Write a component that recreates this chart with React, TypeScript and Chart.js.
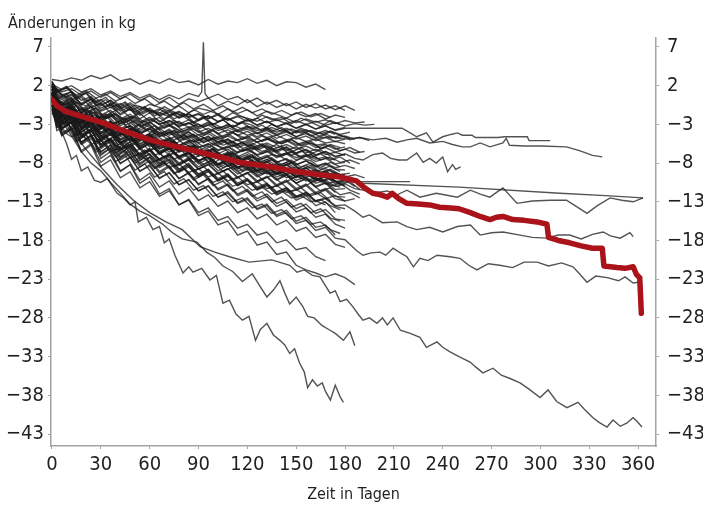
import { useEffect, useRef } from "react";
import { Chart, registerables } from "chart.js";
Chart.register(...registerables);

const Y_TITLE = "Änderungen in kg";
const X_TITLE = "Zeit in Tagen";
const X_TICKS = [0, 30, 60, 90, 120, 150, 180, 210, 240, 270, 300, 330, 360];
const Y_TICKS = [-43, -38, -33, -28, -23, -18, -13, -8, -3, 2, 7];

// day grids for the individual curves of the first half year
const GRID_DAYS = [0, 6, 12, 18, 24, 30, 36, 42, 48, 54, 60, 66, 72, 78, 84, 90, 96, 102, 108, 114, 120, 126, 132, 138, 144, 150, 156, 162, 168, 174, 180, 186, 192, 198];
const GRID_DAYS_B = [0, 3, 9, 15, 21, 27, 33, 39, 45, 51, 57, 63, 69, 75, 81, 87, 93, 99, 105, 111, 117, 123, 129, 135, 141, 147, 153, 159, 165, 171, 177, 183, 189, 195];

// individual weight changes (kg) on GRID_DAYS
const MASS_LINES: number[][] = [
  [2.8, 2.6, 3.0, 2.7, 3.3, 2.9, 3.4, 2.6, 2.9, 2.2, 2.7, 2.3, 2.9, 2.4, 2.6, 2.1, 2.8, 2.2, 2.6, 2.4, 2.9, 2.3, 2.7, 2.0, 2.5, 2.4, 1.8, 2.2, 1.5],
  [2.0, 1.2, 1.6, 0.8, 1.3, 0.5, 1.1, 0.3, 0.9, 0.1, 0.7, -0.2, 0.5, -0.4, 0.3, -0.1, 0.4, -0.6, 0.0, -0.5, 0.2, -0.7, -0.1, -0.8, -0.3, -1.0, -0.4, -0.9, -0.5, -1.1, -0.6, -1.2],
  [1.5, 0.2, 0.8, -0.3, 0.4, -0.6, 0.1, -0.9, -0.2, -1.1, -0.4, -0.8, -1.3, -0.6, -1.5, -0.9, -1.2, -1.7, -1.0, -1.6, -1.1, -1.9, -1.3, -1.7, -2.2, -1.5, -2.0, -1.6, -2.3, -1.8, -2.1],
  [0.8, -0.5, -0.1, -1.0, -0.4, -1.3, -0.8, -1.6, -1.0, -1.8, -1.2, -1.5, -2.0, -1.4, -2.1, -1.7, -2.3, -1.6, -2.4, -1.9, -2.2, -2.6, -2.0, -2.5, -2.2, -2.8, -2.3, -2.7, -2.4, -2.9, -2.5, -2.8, -2.7],
  [1.8, 0.4, 0.9, -0.4, 0.2, -0.9, -0.3, -1.3, -0.7, -1.6, -1.1, -1.9, -1.4, -2.2, -1.7, -2.5, -1.9, -2.7, -2.2, -2.9, -2.4, -3.1, -2.6, -3.3, -2.8, -3.5, -3.0, -3.6, -3.2, -3.7, -3.4],
  [0.2, -1.4, -0.8, -1.9, -1.3, -2.2, -1.7, -2.5, -2.0, -2.8, -2.3, -3.0, -2.5, -3.2, -2.8, -3.4, -2.9, -3.5, -3.1, -3.7, -3.2, -3.8, -3.4, -4.0, -3.5, -4.1, -3.7, -4.2, -3.8, -4.3],
  [2.5, 0.6, 1.2, -0.5, 0.3, -1.2, -0.4, -1.8, -1.0, -2.3, -1.5, -2.7, -2.0, -3.0, -2.4, -3.3, -2.7, -3.6, -3.0, -3.9, -3.3, -4.1, -3.6, -4.3, -3.8, -4.6, -4.0, -4.7, -4.2, -4.8, -4.5, -4.9],
  [1.0, -1.2, -0.5, -2.0, -1.3, -2.5, -1.9, -2.9, -2.4, -3.2, -2.7, -3.5, -3.0, -3.8, -3.3, -4.0, -3.5, -4.2, -3.7, -4.4, -3.9, -4.6, -4.1, -4.8, -4.3, -4.9, -4.5, -5.1, -4.7, -5.2, -4.9],
  [-0.5, -2.5, -1.8, -3.0, -2.4, -3.4, -2.9, -3.7, -3.2, -4.0, -3.5, -4.2, -3.8, -4.5, -4.0, -4.7, -4.2, -4.9, -4.5, -5.1, -4.7, -5.3, -4.9, -5.4, -5.0, -5.6, -5.2, -5.7, -5.5],
  [1.5, -0.4, 0.2, -1.5, -0.8, -2.2, -1.5, -2.8, -2.1, -3.3, -2.7, -3.7, -3.1, -4.1, -3.5, -4.4, -3.9, -4.7, -4.2, -5.0, -4.5, -5.3, -4.8, -5.5, -5.1, -5.8, -5.3, -6.0, -5.6, -6.2, -5.9],
  [0.5, -1.8, -1.0, -2.7, -1.9, -3.3, -2.6, -3.8, -3.1, -4.2, -3.6, -4.5, -4.0, -4.8, -4.3, -5.1, -4.6, -5.3, -4.9, -5.6, -5.1, -5.8, -5.4, -6.0, -5.6, -6.2, -5.8, -6.4, -6.0, -6.6, -6.2, -6.7, -6.5],
  [2.0, -0.3, 0.5, -1.6, -0.7, -2.5, -1.6, -3.2, -2.4, -3.8, -3.0, -4.3, -3.6, -4.7, -4.0, -5.1, -4.5, -5.5, -4.9, -5.8, -5.3, -6.1, -5.6, -6.4, -5.9, -6.7, -6.2, -6.9, -6.5, -7.1, -6.9],
  [0.0, -2.6, -1.8, -3.5, -2.8, -4.1, -3.4, -4.6, -4.0, -5.0, -4.4, -5.4, -4.9, -5.7, -5.2, -6.0, -5.5, -6.3, -5.8, -6.6, -6.1, -6.9, -6.4, -7.1, -6.7, -7.3, -6.9, -7.5, -7.2, -7.6],
  [1.0, -1.5, -0.8, -2.8, -2.0, -3.6, -2.9, -4.3, -3.6, -4.8, -4.2, -5.3, -4.7, -5.7, -5.1, -6.0, -5.5, -6.4, -5.9, -6.7, -6.2, -7.0, -6.5, -7.3, -6.8, -7.6, -7.1, -7.8, -7.4, -8.1, -7.9],
  [-1.0, -3.5, -2.7, -4.3, -3.6, -4.9, -4.3, -5.4, -4.8, -5.8, -5.2, -6.2, -5.6, -6.5, -6.0, -6.8, -6.3, -7.1, -6.6, -7.4, -6.9, -7.7, -7.2, -7.9, -7.5, -8.2, -7.7, -8.4, -8.0, -8.6, -8.3, -8.7],
  [1.5, -1.2, -0.3, -2.6, -1.7, -3.6, -2.7, -4.4, -3.6, -5.0, -4.3, -5.6, -4.9, -6.0, -5.4, -6.4, -5.8, -6.8, -6.2, -7.2, -6.6, -7.5, -7.0, -7.9, -7.4, -8.2, -7.7, -8.5, -8.1, -8.8, -8.9],
  [0.5, -2.2, -1.4, -3.4, -2.5, -4.2, -3.4, -4.9, -4.1, -5.5, -4.8, -6.0, -5.3, -6.5, -5.8, -6.9, -6.3, -7.3, -6.7, -7.7, -7.1, -8.1, -7.5, -8.4, -7.9, -8.8, -8.3, -9.1, -8.7, -9.4, -9.5],
  [2.0, -0.8, 0.0, -2.4, -1.5, -3.5, -2.6, -4.4, -3.6, -5.2, -4.4, -5.8, -5.1, -6.4, -5.7, -6.9, -6.3, -7.4, -6.8, -7.9, -7.3, -8.3, -7.8, -8.7, -8.2, -9.1, -8.6, -9.5, -9.0, -9.8],
  [0.0, -2.8, -2.0, -4.0, -3.2, -4.9, -4.1, -5.6, -4.9, -6.2, -5.5, -6.8, -6.1, -7.3, -6.6, -7.8, -7.1, -8.2, -7.6, -8.6, -8.0, -9.0, -8.4, -9.4, -8.8, -9.8, -9.2, -10.1, -9.6, -10.4, -10.3],
  [1.0, -2.0, -1.2, -3.5, -2.6, -4.5, -3.6, -5.3, -4.5, -6.0, -5.2, -6.6, -5.9, -7.2, -6.5, -7.7, -7.0, -8.2, -7.5, -8.7, -8.0, -9.1, -8.5, -9.5, -8.9, -9.9, -9.3, -10.3, -9.7, -10.7, -10.2, -11.0],
  [-0.5, -3.6, -2.8, -4.7, -3.9, -5.6, -4.8, -6.3, -5.6, -6.9, -6.2, -7.5, -6.8, -8.0, -7.3, -8.5, -7.8, -9.0, -8.3, -9.4, -8.8, -9.8, -9.2, -10.2, -9.6, -10.6, -10.0, -11.0, -10.5, -11.4, -11.3],
  [1.5, -1.6, -0.8, -3.3, -2.4, -4.5, -3.6, -5.4, -4.6, -6.2, -5.4, -6.9, -6.1, -7.5, -6.8, -8.1, -7.4, -8.6, -8.0, -9.1, -8.5, -9.6, -9.0, -10.1, -9.5, -10.6, -10.0, -11.1, -10.6, -11.8],
  [0.0, -3.2, -2.3, -4.6, -3.7, -5.6, -4.8, -6.4, -5.6, -7.1, -6.3, -7.7, -7.0, -8.3, -7.6, -8.8, -8.2, -9.3, -8.7, -9.8, -9.2, -10.3, -9.7, -10.8, -10.2, -11.3, -10.7, -11.8, -11.3, -12.3, -12.4],
  [1.0, -2.4, -1.5, -4.0, -3.1, -5.2, -4.3, -6.1, -5.3, -6.9, -6.1, -7.6, -6.8, -8.2, -7.5, -8.8, -8.1, -9.4, -8.7, -9.9, -9.3, -10.5, -9.8, -11.0, -10.4, -11.5, -10.9, -12.0, -11.5, -12.6, -12.9],
  [-1.0, -4.5, -3.6, -5.6, -4.8, -6.5, -5.7, -7.3, -6.5, -8.0, -7.2, -8.6, -7.9, -9.2, -8.5, -9.8, -9.1, -10.3, -9.7, -10.8, -10.2, -11.3, -10.7, -11.8, -11.2, -12.3, -11.8, -12.9, -13.4],
  [0.5, -3.0, -2.1, -4.6, -3.7, -5.8, -4.9, -6.8, -5.9, -7.6, -6.8, -8.4, -7.6, -9.1, -8.3, -9.7, -9.0, -10.3, -9.6, -10.9, -10.2, -11.4, -10.8, -12.0, -11.4, -12.5, -12.0, -13.0, -12.6, -13.6, -13.9],
  [2.0, -1.5, -0.6, -3.5, -2.6, -5.0, -4.0, -6.2, -5.2, -7.2, -6.3, -8.0, -7.2, -8.8, -8.0, -9.5, -8.8, -10.2, -9.5, -10.9, -10.2, -11.5, -10.9, -12.1, -11.5, -12.8, -12.2, -13.5, -13.0, -14.4],
  [0.0, -3.6, -2.7, -5.3, -4.4, -6.6, -5.7, -7.6, -6.8, -8.5, -7.7, -9.3, -8.5, -10.0, -9.3, -10.7, -10.0, -11.3, -10.7, -12.0, -11.4, -12.6, -12.0, -13.2, -12.7, -13.9, -13.3, -14.5, -14.0, -15.2, -15.4],
  [1.0, -2.6, -1.6, -4.6, -3.6, -6.0, -5.0, -7.2, -6.2, -8.2, -7.3, -9.1, -8.3, -10.0, -9.2, -10.8, -10.0, -11.5, -10.8, -12.2, -11.6, -12.9, -12.3, -13.6, -13.0, -14.3, -13.8, -15.0, -14.6, -15.9, -16.4],
  [0.5, -3.5, -2.5, -5.5, -4.5, -7.0, -6.0, -8.1, -7.2, -9.1, -8.2, -10.0, -9.2, -10.8, -10.1, -11.6, -10.9, -12.4, -11.7, -13.1, -12.5, -13.9, -13.3, -14.7, -14.1, -15.5, -15.0, -16.3, -16.0, -17.3],
  [-0.5, -4.4, -3.5, -6.4, -5.5, -7.9, -7.0, -9.1, -8.2, -10.2, -9.3, -11.1, -10.3, -12.0, -11.2, -12.8, -12.1, -13.6, -12.9, -14.4, -13.8, -15.2, -14.6, -16.0, -15.4, -16.8, -16.3, -17.6, -17.2, -18.5, -18.9],
  [1.0, -3.0, -2.0, -5.4, -4.4, -7.4, -6.5, -9.0, -8.2, -10.6, -9.8, -12.0, -11.3, -13.4, -12.8, -14.8, -14.2, -16.0, -15.5, -17.3, -16.8, -18.6, -18.2, -19.8, -19.5, -21.2, -21.8, -22.2, -22.7, -22.3, -22.8, -23.7],
  [0.0, -4.2, -3.3, -6.6, -5.7, -8.4, -7.6, -9.9, -9.1, -11.2, -10.4, -12.3, -11.6, -13.4, -12.7, -14.4, -13.8, -15.4, -14.9, -16.4, -15.9, -17.3, -16.9, -18.3, -17.9, -19.2, -18.9, -20.1, -20.6],
  [1.2, -0.9, -1.6, -1.0, -2.4, -1.9, -3.1, -2.5, -3.7, -3.0, -4.0, -3.5, -4.4, -3.9, -4.8, -4.3, -5.1, -4.6, -5.5, -5.0, -5.8, -5.3, -6.1, -5.6, -6.4, -5.9, -6.7, -6.2, -6.9, -6.6, -7.0],
  [0.3, -2.0, -2.8, -2.2, -3.6, -3.1, -4.4, -3.9, -5.1, -4.6, -5.7, -5.2, -6.3, -5.8, -6.8, -6.3, -7.3, -6.8, -7.7, -7.3, -8.1, -7.7, -8.5, -8.1, -8.9, -8.5, -9.2, -8.9, -9.5, -9.2, -9.8, -9.5, -9.9],
  [2.2, 0.8, 0.0, 0.5, -0.8, -0.3, -1.5, -1.0, -2.1, -1.6, -2.6, -2.1, -3.0, -2.6, -3.4, -3.0, -3.8, -3.4, -4.1, -3.8, -4.4, -4.1, -4.7, -4.4, -5.0, -4.7, -5.2, -4.9, -5.4, -5.2, -5.5],
  [-1.5, -3.8, -4.6, -4.2, -5.6, -5.1, -6.5, -6.0, -7.3, -6.8, -8.0, -7.5, -8.6, -8.1, -9.2, -8.7, -9.8, -9.3, -10.3, -9.8, -10.8, -10.4, -11.3, -10.9, -11.8, -11.4, -12.2, -11.8, -12.6, -12.2, -12.9, -12.6],
  [1.8, 0.9, 0.2, 0.7, -0.3, 0.2, -0.8, -0.3, -1.2, -0.7, -1.5, -1.0, -1.8, -1.3, -2.0, -1.6, -2.2, -1.8, -2.5, -2.0, -2.6, -2.2, -2.8, -2.4, -2.9, -2.5, -3.0, -2.6, -3.1, -2.8, -3.2, -2.9, -3.1, -3.0],
  [0.7, -1.6, -2.5, -2.0, -3.5, -3.0, -4.4, -3.9, -5.2, -4.7, -5.9, -5.4, -6.6, -6.1, -7.2, -6.7, -7.8, -7.3, -8.4, -7.9, -8.9, -8.5, -9.4, -9.0, -9.9, -9.5, -10.3, -9.9, -10.7, -10.4, -11.0],
];

// further individual curves (kg) on GRID_DAYS_B
const MASS_LINES_B: number[][] = [
  [1.2, 0.3, 0.9, -0.2, -0.6, 0.4, -0.8, -0.1, -1.3, -0.5, -0.9, -1.6, -0.7, -1.4, -1.9, -1.1, -1.7, -1.2, -2.3, -1.5, -2.0, -2.6, -1.8, -2.4, -2.1, -2.9, -2.2, -2.7, -3.3, -2.5, -3.0],
  [2.4, 1.1, 1.8, 0.4, 1.0, -0.6, 0.2, -1.1, -0.3, -1.7, -0.9, -1.4, -2.3, -1.5, -2.0, -2.8, -2.2, -3.0, -2.4, -3.4, -2.7, -3.1, -3.8, -3.0, -3.6, -4.2, -3.5, -4.0, -4.6, -3.9, -4.4, -4.8],
  [0.6, -1.0, -0.3, -1.9, -1.1, -2.4, -1.6, -2.9, -2.2, -3.3, -2.6, -3.7, -3.0, -3.4, -4.1, -3.5, -4.4, -3.8, -4.8, -4.1, -4.6, -5.2, -4.5, -5.0, -5.5, -4.9, -5.7, -5.2, -6.1, -5.6, -6.0],
  [-0.3, -2.2, -1.5, -3.0, -2.3, -2.8, -3.6, -3.0, -4.1, -3.4, -4.5, -3.9, -4.3, -5.0, -4.4, -5.3, -4.7, -5.6, -5.0, -5.8, -5.3, -6.1, -5.5, -6.3, -5.8, -6.6, -6.0, -6.8, -6.3, -7.1],
  [1.6, -0.4, 0.3, -1.7, -0.9, -2.6, -1.8, -3.3, -2.5, -3.9, -3.1, -3.6, -4.5, -3.8, -5.0, -4.3, -5.4, -4.7, -5.2, -5.9, -5.3, -6.3, -5.7, -6.6, -6.1, -7.0, -6.4, -7.3, -6.8, -7.6, -7.2, -8.0],
  [0.2, -2.3, -1.4, -3.3, -2.5, -4.0, -3.2, -4.7, -3.9, -5.2, -4.5, -5.7, -5.0, -6.2, -5.5, -6.0, -6.7, -6.1, -7.1, -6.5, -7.5, -6.9, -7.8, -7.3, -8.2, -7.6, -8.5, -8.0, -8.8, -8.4, -9.1],
  [1.0, -1.5, -0.7, -2.9, -2.0, -3.8, -3.0, -4.6, -3.7, -5.2, -4.5, -5.0, -5.9, -5.3, -6.4, -5.8, -6.9, -6.2, -7.4, -6.7, -7.8, -7.2, -8.2, -7.6, -8.6, -8.0, -9.0, -8.5, -9.4, -8.9, -9.8, -10.1],
  [-0.8, -3.4, -2.6, -4.4, -3.6, -5.2, -4.4, -5.9, -5.1, -6.5, -5.8, -7.0, -6.4, -7.5, -6.9, -7.9, -7.4, -8.3, -7.8, -8.8, -8.2, -9.2, -8.7, -9.6, -9.1, -10.0, -9.5, -10.4, -10.0, -10.8, -11.1],
  [1.8, -0.9, 0.1, -2.5, -1.5, -3.7, -2.7, -4.7, -3.7, -5.5, -4.6, -6.2, -5.4, -6.8, -6.1, -7.4, -6.7, -8.0, -7.3, -8.5, -7.9, -9.0, -8.5, -9.5, -9.0, -10.0, -9.5, -10.5, -10.1, -11.0, -10.6, -11.5, -12.0],
  [0.4, -2.6, -1.8, -4.1, -3.3, -5.3, -4.4, -6.3, -5.4, -7.1, -6.3, -7.8, -7.1, -8.5, -7.8, -9.1, -8.4, -9.7, -9.0, -10.2, -9.6, -10.7, -10.1, -11.2, -10.6, -11.7, -11.2, -12.2, -11.8, -12.9],
  [-0.4, -3.8, -3.0, -5.2, -4.4, -6.3, -5.5, -7.2, -6.4, -8.0, -7.3, -8.7, -8.0, -9.3, -8.7, -9.9, -9.3, -10.5, -9.9, -11.0, -10.5, -11.5, -11.1, -12.0, -11.6, -12.5, -12.2, -13.0, -12.7, -13.5, -14.0],
  [2.6, 1.3, 1.9, 0.6, 1.1, -0.2, 0.5, -0.8, -0.1, -1.4, -0.7, -1.9, -1.2, -2.3, -1.6, -2.7, -2.0, -3.0, -2.4, -3.3, -2.8, -3.6, -3.1, -3.9, -3.4, -4.2, -3.7, -4.5, -4.1, -4.8, -4.4, -5.0, -4.7, -5.1],
  [0.9, -1.9, -0.6, -1.4, -3.1, -2.0, -2.6, -4.0, -3.2, -3.7, -5.0, -4.1, -4.6, -5.6, -4.9, -5.2, -6.4, -5.6, -6.0, -7.0, -6.2, -6.6, -7.5, -6.9, -7.2, -8.0, -7.4, -7.7, -8.6, -7.9, -8.5],
  [-1.2, -3.1, -4.0, -3.3, -4.9, -4.2, -5.6, -4.9, -6.1, -5.5, -6.8, -6.1, -7.3, -6.6, -7.8, -7.1, -8.2, -7.6, -8.6, -8.0, -9.0, -8.4, -9.4, -8.8, -9.7, -9.2, -10.0, -9.6, -10.4, -10.0, -10.6, -10.3],
  [1.4, 0.0, -0.8, -0.2, -1.5, -0.9, -2.2, -1.5, -2.7, -2.0, -3.1, -2.5, -3.5, -2.9, -3.9, -3.3, -4.2, -3.7, -4.6, -4.0, -4.9, -4.4, -5.2, -4.7, -5.5, -5.0, -5.8, -5.4, -6.1, -5.7, -6.4, -6.0, -6.6],
  [0.0, -2.1, -3.0, -2.6, -4.2, -3.6, -5.1, -4.5, -5.9, -5.3, -6.6, -6.0, -7.3, -6.7, -7.9, -7.3, -8.5, -7.9, -9.1, -8.5, -9.6, -9.0, -10.1, -9.6, -10.6, -10.1, -11.1, -10.6, -11.6, -11.2, -12.1, -11.8, -12.5],
  [2.0, 1.2, 1.7, 0.8, 1.3, 0.4, 0.9, 0.0, 0.6, -0.3, 0.3, -0.6, 0.0, -0.8, -0.2, -1.0, -0.4, -1.2, -0.6, -1.4, -0.8, -1.5, -1.0, -1.7, -1.2, -1.8, -1.4, -2.0, -1.6, -2.1],
  [1.2, -2.4, -1.4, -4.2, -3.2, -5.6, -4.6, -6.7, -5.8, -7.7, -6.9, -8.6, -7.8, -9.4, -8.7, -10.2, -9.5, -10.9, -10.3, -11.6, -11.0, -12.3, -11.7, -13.0, -12.4, -13.7, -13.2, -14.4, -13.9, -15.1, -15.5],
  [0.5, -1.2, -2.2, -1.6, -3.2, -2.5, -3.9, -3.3, -4.6, -4.0, -5.2, -4.6, -5.8, -5.2, -6.3, -5.7, -6.8, -6.2, -7.2, -6.7, -7.6, -7.1, -8.0, -7.5, -8.4, -7.9, -8.8, -8.3, -9.2, -8.8, -9.5, -9.3],
  [-0.6, -2.0, -2.9, -2.3, -3.4, -2.8, -3.9, -3.3, -4.4, -3.8, -4.8, -4.2, -5.2, -4.6, -5.5, -5.0, -5.9, -5.4, -6.2, -5.7, -6.5, -6.0, -6.8, -6.3, -7.1, -6.6, -7.3, -6.9, -7.6],
  [2.2, -0.2, -1.2, -0.6, -2.4, -1.7, -3.4, -2.7, -4.3, -3.6, -5.1, -4.4, -5.8, -5.1, -6.5, -5.8, -7.1, -6.4, -7.7, -7.0, -8.2, -7.6, -8.8, -8.2, -9.3, -8.7, -9.8, -9.3, -10.3, -9.8, -10.8, -10.4, -11.4],
  [0.0, -0.9, -1.6, -1.1, -1.9, -1.4, -2.2, -1.7, -2.4, -2.0, -2.7, -2.2, -2.9, -2.5, -3.1, -2.7, -3.3, -2.9, -3.5, -3.1, -3.6, -3.3, -3.8, -3.4, -3.9, -3.6, -4.1, -3.8, -4.2, -3.9, -4.3, -4.0],
  [0.3, -3.4, -2.4, -5.2, -4.3, -6.6, -5.7, -7.8, -7.0, -8.9, -8.1, -9.8, -9.1, -10.7, -10.0, -11.5, -10.9, -12.3, -11.7, -13.0, -12.5, -13.8, -13.3, -14.5, -14.0, -15.2, -14.8, -15.9, -15.6, -16.6, -17.1],
  [1.9, 0.2, -0.5, 0.0, -1.4, -0.9, -2.3, -1.7, -3.1, -2.5, -3.7, -3.2, -4.3, -3.8, -4.8, -4.3, -5.3, -4.8, -5.7, -5.2, -6.1, -5.7, -6.5, -6.1, -6.9, -6.5, -7.2, -6.9, -7.6, -7.2, -7.9, -7.6, -8.1],
];

// curves with their own days: [day, kg]
const SPIKE_LINE: [number, number][] = [[0, 2.2], [6, 1.5], [12, 2.0], [18, 1.2], [24, 1.6], [30, 0.8], [36, 1.3], [42, 0.6], [48, 1.1], [54, 0.4], [60, 0.9], [66, 0.2], [72, 0.8], [78, 0.3], [84, 1.0], [90, 0.6], [92, 1.2], [93, 7.6], [94, 1.0], [96, 0.4], [102, 0.9], [108, 0.2], [114, 0.6], [120, -0.2], [126, 0.4], [132, -0.4], [138, 0.1], [144, -0.6], [150, -0.1], [156, -0.8], [162, -0.3], [168, -1.0], [174, -0.6], [180, -1.2]];

const LINE_A1: [number, number][] = [[0, 2.0], [6, 0.8], [12, 1.2], [18, 0.1], [24, 0.6], [30, -0.5], [36, 0.1], [42, -1.0], [48, -0.4], [54, -1.5], [60, -0.9], [66, -1.8], [72, -1.2], [78, -2.1], [84, -1.6], [90, -2.4], [96, -1.9], [102, -2.6], [108, -2.2], [114, -2.9], [120, -2.4], [126, -3.1], [132, -2.6], [138, -3.3], [144, -2.9], [150, -3.5], [156, -3.0], [162, -3.6], [168, -3.2], [174, -3.8], [180, -3.5], [185, -3.5], [200, -3.5], [215, -3.5], [220, -4.1], [224, -4.6], [230, -4.1], [234, -5.3], [240, -4.6], [245, -4.3], [249, -4.1], [252, -4.4], [258, -4.4], [260, -4.7], [274, -4.7], [278, -4.6], [292, -4.6], [293, -5.1], [306, -5.1]];

const LINE_A2: [number, number][] = [[0, 1.2], [6, -0.6], [12, 0.0], [18, -1.2], [24, -0.6], [30, -1.8], [36, -1.2], [42, -2.3], [48, -1.7], [54, -2.7], [60, -2.1], [66, -3.0], [72, -2.5], [78, -3.3], [84, -2.8], [90, -3.6], [96, -3.1], [102, -3.8], [108, -3.4], [114, -4.0], [120, -3.6], [126, -4.2], [132, -3.8], [138, -4.4], [144, -4.0], [150, -4.6], [156, -4.2], [162, -4.8], [171, -4.6], [180, -4.9], [189, -4.7], [197, -5.0], [205, -4.8], [212, -5.3], [218, -5.0], [224, -4.8], [232, -5.4], [240, -5.2], [246, -5.6], [252, -5.9], [257, -5.9], [263, -5.4], [269, -5.9], [277, -5.4], [279, -4.8], [281, -5.7], [290, -5.8], [300, -5.8], [316, -5.9], [324, -6.4], [332, -7.0], [338, -7.2]];

const LINE_B: [number, number][] = [[0, 0.0], [6, -1.8], [12, -1.2], [18, -2.6], [24, -2.0], [30, -3.2], [36, -2.6], [42, -3.7], [48, -3.2], [54, -4.2], [60, -3.6], [66, -4.6], [72, -4.0], [78, -5.0], [84, -4.5], [90, -5.4], [96, -4.8], [102, -5.7], [108, -5.1], [114, -6.0], [120, -5.5], [126, -6.3], [132, -5.8], [138, -6.6], [144, -6.0], [150, -6.8], [156, -6.3], [162, -7.0], [168, -6.5], [174, -7.2], [180, -6.8], [186, -7.4], [191, -7.6], [197, -6.9], [203, -6.7], [208, -7.4], [213, -7.6], [218, -7.6], [224, -6.7], [228, -7.9], [232, -7.4], [236, -8.0], [240, -7.2], [243, -9.1], [246, -8.2], [248, -8.8], [251, -8.5]];

const LINE_C1: [number, number][] = [[0, 1.0], [6, -2.0], [12, -1.2], [18, -3.2], [24, -2.5], [30, -4.2], [36, -3.6], [42, -5.0], [48, -4.4], [54, -5.6], [60, -5.0], [66, -6.1], [72, -5.6], [78, -6.6], [84, -6.1], [90, -7.1], [96, -6.6], [102, -7.5], [108, -7.0], [114, -7.9], [120, -7.4], [126, -8.3], [132, -7.8], [138, -8.7], [144, -8.2], [150, -9.1], [156, -8.6], [162, -9.5], [168, -9.1], [174, -9.9], [180, -9.8], [186, -10.4], [220, -10.4]];

const LINE_C: [number, number][] = [[0, 0.5], [6, -2.4], [12, -1.6], [18, -3.6], [24, -2.9], [30, -4.6], [36, -3.9], [42, -5.4], [48, -4.8], [54, -6.1], [60, -5.5], [66, -6.7], [72, -6.1], [78, -7.2], [84, -6.7], [90, -7.7], [96, -7.2], [102, -8.2], [108, -7.7], [114, -8.6], [120, -8.1], [126, -9.0], [132, -8.6], [138, -9.4], [144, -9.0], [150, -9.8], [156, -9.4], [162, -10.1], [168, -9.8], [174, -10.4], [180, -10.2], [191, -10.6], [250, -11.1], [312, -11.9], [340, -12.2], [363, -12.5]];

const LINE_C2: [number, number][] = [[0, 1.5], [6, -1.2], [12, -0.5], [18, -2.8], [24, -2.1], [30, -4.0], [36, -3.3], [42, -5.0], [48, -4.4], [54, -5.8], [60, -5.2], [66, -6.5], [72, -5.9], [78, -7.1], [84, -6.6], [90, -7.7], [96, -7.2], [102, -8.3], [108, -7.8], [114, -8.8], [120, -8.3], [126, -9.3], [132, -8.8], [138, -9.8], [144, -9.3], [150, -10.2], [156, -9.8], [162, -10.6], [168, -10.2], [174, -11.0], [180, -10.7], [186, -11.3], [191, -11.5], [200, -11.8], [206, -11.6], [212, -12.1], [218, -11.5], [226, -12.4], [236, -11.9], [249, -12.4], [257, -11.5], [263, -12.0], [269, -12.4], [275, -11.5], [277, -11.2], [285.6, -13.2], [295, -12.9], [306, -12.8], [316, -12.8], [322, -13.6], [328.6, -14.5], [335, -13.5], [342.8, -12.5], [350, -12.8], [357, -13.0], [363, -12.5]];

const LINE_D: [number, number][] = [[0, 0.8], [6, -2.8], [12, -2.0], [18, -4.4], [24, -3.6], [30, -5.6], [36, -4.9], [42, -6.6], [48, -5.9], [54, -7.4], [60, -6.8], [66, -8.1], [72, -7.5], [78, -8.8], [84, -8.2], [90, -9.4], [96, -8.8], [102, -10.0], [108, -9.4], [114, -10.6], [120, -10.0], [126, -11.1], [132, -10.6], [138, -11.7], [144, -11.2], [150, -12.3], [156, -11.8], [162, -12.9], [168, -12.5], [174, -13.5], [180, -13.4], [186, -14.2], [191, -15.0], [195, -14.7], [203, -15.7], [212, -15.6], [218, -16.2], [224, -16.6], [232, -16.3], [240, -16.9], [249, -16.2], [257, -16.0], [263, -17.3], [270, -17.0], [277, -16.9], [287.5, -17.3], [295, -17.6], [304, -17.7], [311, -17.3], [318, -17.3], [325, -17.8], [332, -17.2], [338.5, -16.9], [343, -17.4], [349, -17.7], [355, -17.0], [357, -17.5]];

const LINE_E: [number, number][] = [[0, 0.5], [6, -3.5], [12, -2.7], [18, -5.3], [24, -4.5], [30, -6.8], [36, -6.1], [42, -8.0], [48, -7.3], [54, -9.0], [60, -8.4], [66, -9.9], [72, -9.3], [78, -10.8], [84, -10.2], [90, -11.6], [96, -11.0], [102, -12.4], [108, -11.9], [114, -13.2], [120, -12.7], [126, -14.0], [132, -13.5], [138, -14.9], [144, -14.4], [150, -15.8], [156, -15.4], [162, -16.7], [168, -16.3], [174, -17.7], [180, -17.9], [187, -19.3], [191, -19.9], [196, -19.6], [201.5, -19.5], [205, -19.9], [209.5, -19.0], [214, -19.6], [218, -20.1], [222, -21.4], [226, -20.3], [231, -20.6], [236.5, -19.9], [244.5, -20.1], [250.6, -20.3], [256, -21.2], [261, -21.8], [268, -21.0], [275, -21.2], [283, -21.5], [290, -20.8], [298, -20.8], [305, -21.3], [313, -20.9], [320, -21.4], [324, -22.3], [328.6, -23.4], [334, -22.6], [341, -22.8], [348, -23.2], [352, -22.7], [357, -23.5], [360, -23.4]];

const LINE_L1: [number, number][] = [[0, 0.5], [3, -2.0], [6, -4.0], [9, -5.5], [12, -7.5], [15, -7.0], [18, -9.0], [22, -8.5], [26, -10.2], [30, -10.5], [34, -10.0], [40, -11.9], [44, -12.5], [48, -13.4], [51, -13.0], [53, -15.6], [58, -15.0], [62, -16.6], [66, -16.2], [69, -18.3], [72, -17.8], [75.5, -19.9], [80.5, -22.2], [84, -21.4], [86.6, -22.1], [92, -21.6], [97, -23.1], [101, -22.5], [105, -26.1], [109, -25.7], [113, -27.5], [117, -28.3], [121, -27.8], [125, -30.9], [128, -29.5], [132, -28.7], [136, -30.2], [140, -30.9], [143, -31.5], [146, -32.6], [149, -32.0], [152, -33.8], [155, -35.0], [157, -37.0], [160, -36.0], [163, -36.8], [166, -36.4], [168, -37.5], [171, -38.6], [174, -36.7], [177, -38.2], [179, -38.9]];

const LINE_L2: [number, number][] = [[0, 1.0], [6, -2.5], [12, -4.5], [18, -6.5], [24, -8.0], [30, -9.0], [36, -10.5], [42, -11.9], [48, -13.3], [54, -14.2], [60, -14.8], [68, -15.9], [74, -17.0], [80, -17.8], [89, -18.2], [95, -19.5], [100, -20.2], [105, -21.3], [111, -22.0], [117, -23.3], [123, -22.3], [128, -24.0], [132, -25.3], [136, -24.4], [140, -23.2], [143, -24.8], [146, -26.2], [150, -25.3], [154, -26.5], [157, -27.8], [161, -28.0], [166, -29.0], [170, -29.5], [174, -30.0], [179, -30.9], [183, -29.8], [186, -31.6]];

const LINE_L3: [number, number][] = [[0, 0.5], [10, -3.0], [20, -6.0], [30, -8.5], [40, -10.8], [50, -12.8], [60, -14.4], [70, -15.6], [80, -16.6], [91, -18.8], [100, -19.5], [109, -20.1], [121, -20.8], [135, -20.5], [146, -21.2], [150.5, -22.1], [155, -21.8], [160, -22.5], [164.6, -22.7], [170.8, -24.8], [174, -24.5], [177, -25.9], [181, -25.6], [185, -26.6], [188, -27.5], [191, -28.3], [195, -28.0], [199.6, -28.7], [203, -28.0], [206, -28.9], [209.5, -28.0], [214, -29.6], [220, -30.0], [226, -30.5], [230, -31.8], [236.5, -31.1], [240, -31.8], [244.5, -32.4], [250, -33.0], [256.8, -33.7], [260, -34.3], [264.7, -35.1], [270.9, -34.5], [276, -35.4], [281, -35.8], [287.5, -36.4], [293, -37.2], [299.8, -38.3], [304.7, -37.3], [310, -38.8], [316.3, -39.6], [323.1, -38.9], [327, -39.8], [332.3, -40.9], [336, -41.5], [340.9, -42.1], [344.6, -41.2], [349, -42.0], [353, -41.6], [356.9, -40.9], [359, -41.3], [362.4, -42.1]];

// mean change (red)
const MEAN_LINE: [number, number][] = [[0, 0.2], [3, -0.6], [8, -1.3], [17, -1.9], [30, -2.7], [45, -3.9], [60, -5.0], [75, -5.8], [91, -6.6], [105, -7.3], [115, -7.9], [135, -8.5], [150, -9.1], [165, -9.5], [177, -9.8], [187, -10.3], [192, -11.2], [197, -11.9], [202, -12.1], [206, -12.4], [209, -11.9], [213, -12.6], [218, -13.2], [225, -13.3], [232, -13.4], [238, -13.7], [245, -13.8], [250, -13.9], [257, -14.4], [263, -14.9], [269, -15.3], [273, -15.0], [277, -14.9], [283, -15.3], [290, -15.4], [298, -15.6], [304, -15.9], [305, -17.6], [311, -18.0], [318, -18.3], [325, -18.7], [332, -19.0], [338, -19.0], [339, -21.3], [347, -21.5], [352, -21.6], [357, -21.4], [359, -22.4], [361, -22.8], [362, -27.4]];

const FONT = "'Liberation Sans Narrow', 'DejaVu Sans Condensed', 'Liberation Sans', sans-serif";
const GRAY = "rgba(25,25,25,0.75)";
const AXIS = "#a3a3a3";
const TEXT = "#231f20";

const minus = (v: number | string) => String(v).replace("-", "\u2212");

export default function App() {
  const ref = useRef<HTMLCanvasElement | null>(null);
  useEffect(() => {
    if (!ref.current) return;
    const pairs = (arr: [number, number][]) => arr.map(([x, y]) => ({ x, y }));
    const grayDs = (data: { x: number; y: number }[]) => ({
      data,
      borderColor: GRAY,
      borderWidth: 1.4,
      pointRadius: 0,
      tension: 0,
      order: 1,
    });
    const datasets: any[] = [
      {
        data: pairs(MEAN_LINE),
        borderColor: "#aa131a",
        borderWidth: 5.5,
        pointRadius: 0,
        tension: 0,
        borderJoinStyle: "round",
        borderCapStyle: "round",
        order: 0,
      },
    ];
    MASS_LINES.forEach((vals) => datasets.push(grayDs(vals.map((y, i) => ({ x: GRID_DAYS[i], y })))));
    MASS_LINES_B.forEach((vals) => datasets.push(grayDs(vals.map((y, i) => ({ x: GRID_DAYS_B[i], y })))));
    [SPIKE_LINE, LINE_A1, LINE_A2, LINE_B, LINE_C1, LINE_C, LINE_C2, LINE_D, LINE_E, LINE_L1, LINE_L2, LINE_L3].forEach((l) =>
      datasets.push(grayDs(pairs(l)))
    );

    const titlePlugin = {
      id: "topTitle",
      afterDraw(chart: any) {
        const c = chart.ctx;
        c.save();
        c.font = `16px ${FONT}`;
        c.fillStyle = TEXT;
        c.textAlign = "left";
        c.textBaseline = "alphabetic";
        c.fillText(Y_TITLE, 8, 28);
        c.restore();
      },
    };

    const yAxis = (position: "left" | "right", width: number, padding: number) => ({
      type: "linear" as const,
      position,
      min: -44.55,
      max: 8.16,
      afterBuildTicks: (s: any) => {
        s.ticks = Y_TICKS.map((value) => ({ value }));
      },
      afterFit: (s: any) => {
        s.width = width;
      },
      border: { display: true, color: AXIS, width: 1.5 },
      grid: { drawOnChartArea: false, drawTicks: true, tickLength: 3, color: AXIS },
      ticks: {
        padding,
        color: TEXT,
        font: { family: FONT, size: 20 },
        callback: (v: any) => minus(v),
      },
    });

    const chart = new Chart(ref.current, {
      type: "line",
      data: { datasets },
      options: {
        responsive: false,
        animation: false,
        parsing: false as any,
        normalized: true,
        layout: { padding: { top: 38, left: 0, right: 0, bottom: 0 } },
        plugins: { legend: { display: false }, tooltip: { enabled: false }, title: { display: false } },
        scales: {
          x: {
            type: "linear",
            min: -0.6,
            max: 371,
            afterBuildTicks: (s: any) => {
              s.ticks = X_TICKS.map((value) => ({ value }));
            },
            afterFit: (s: any) => {
              s.height = 61;
            },
            border: { display: true, color: AXIS, width: 1.5 },
            grid: { drawOnChartArea: false, drawTicks: true, tickLength: 3, color: AXIS },
            ticks: { padding: 4, color: TEXT, maxRotation: 0, font: { family: FONT, size: 20 } },
            title: { display: true, text: X_TITLE, color: TEXT, font: { family: FONT, size: 16 }, padding: { top: 0, bottom: 3 } },
          },
          y: yAxis("left", 51, 4),
          y2: yAxis("right", 47, 8),
        },
      },
      plugins: [titlePlugin],
    });
    return () => chart.destroy();
  }, []);
  return (
    <div style={{ position: "absolute", left: 0, top: 0, width: 703, height: 507, background: "#fff" }}>
      <canvas ref={ref} width={703} height={507} style={{ display: "block" }} />
    </div>
  );
}
